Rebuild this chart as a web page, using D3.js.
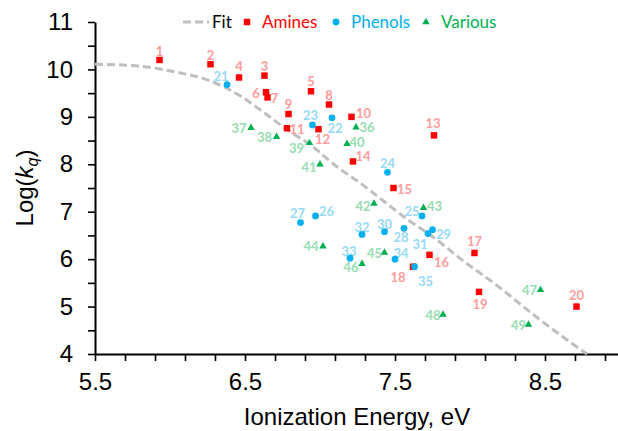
<!DOCTYPE html>
<html>
<head>
<meta charset="utf-8">
<script src="https://cdn.jsdelivr.net/npm/d3@7"></script>
<style>
  body { margin: 0; background: #fff; }
  svg { display: block; }
</style>
</head>
<body>
<svg id="chart" width="618" height="431"></svg>
<script>
// values
const amineIds = [1, 2, 3, 4, 5, 6, 7, 8, 9, 10, 11, 12, 13, 14, 15, 16, 17, 18, 19, 20];
const amineIE = [5.93, 6.27, 6.63, 6.46, 6.94, 6.64, 6.65, 7.06, 6.79, 7.21, 6.78, 6.99, 7.76, 7.22, 7.49, 7.73, 8.03, 7.62, 8.06, 8.71];
const amineLogK = [10.20, 10.11, 9.87, 9.83, 9.54, 9.52, 9.41, 9.26, 9.06, 9.00, 8.76, 8.74, 8.61, 8.06, 7.50, 6.09, 6.13, 5.84, 5.31, 5.00];

const phenolIds = [21, 22, 23, 24, 25, 26, 27, 28, 29, 30, 31, 32, 33, 34, 35];
const phenolIE = [6.38, 7.08, 6.95, 7.45, 7.68, 6.97, 6.87, 7.56, 7.75, 7.43, 7.72, 7.28, 7.20, 7.50, 7.63];
const phenolLogK = [9.68, 8.98, 8.83, 7.83, 6.91, 6.91, 6.77, 6.65, 6.62, 6.58, 6.54, 6.52, 6.02, 6.00, 5.84];

const variousIds = [36, 37, 38, 39, 40, 41, 42, 43, 44, 45, 46, 47, 48, 49];
const variousIE = [7.24, 6.54, 6.71, 6.93, 7.18, 7.00, 7.36, 7.69, 7.02, 7.43, 7.28, 8.47, 7.82, 8.39];
const variousLogK = [8.78, 8.77, 8.58, 8.45, 8.43, 8.00, 7.17, 7.08, 6.27, 6.14, 5.90, 5.35, 4.83, 4.62];

// dashed fit curve
const fitIE = [5.5, 5.8, 6.03, 6.25, 6.47, 6.63, 6.78, 6.94, 7.1, 7.3, 7.43, 7.59, 7.74, 7.94, 8.19, 8.41, 8.65, 8.78];
const fitLogK = [10.11, 10.07, 9.95, 9.78, 9.44, 9.08, 8.73, 8.4, 7.98, 7.53, 7.21, 6.82, 6.5, 6.0, 5.42, 4.86, 4.29, 4.0];

const xMajor = [5.5, 6.5, 7.5, 8.5];
const yMajor = [4, 5, 6, 7, 8, 9, 10, 11];

// where each number label sits relative to its marker (px)
const labelOffset = {
  1: [0, -9], 2: [0, -9], 3: [0, -10], 4: [0, -11], 5: [0, -10], 6: [-10, 1], 7: [7, 1],
  8: [0, -10], 9: [0, -10], 10: [12, -4], 11: [10, 1], 12: [4, 10], 13: [-1, -12], 14: [10, -5],
  15: [11, 1], 16: [12, 7], 17: [0, -12], 18: [-15, 10], 19: [1, 12], 20: [0, -12],
  21: [-6, -9], 22: [3, 10], 23: [-2, -10], 24: [0, -9], 25: [-10, -5], 26: [11, -5], 27: [-3, -10],
  28: [-3, 9], 29: [11, 4], 30: [0, -8], 31: [-8, 10], 32: [0, -7], 33: [-1, -7], 34: [6, -6],
  35: [11, 14], 36: [11, 0], 37: [-12, 0], 38: [-12, 0], 39: [-13, 5], 40: [10, -2], 41: [-11, 3],
  42: [-11, 2], 43: [11, -2], 44: [-12, 0], 45: [-10, 0], 46: [-11, 3], 47: [-11, 0], 48: [-10, 0],
  49: [-10, 0]
};

const series = [
  { name: "Amines", ids: amineIds, ie: amineIE, logk: amineLogK, color: "#FF0000", label: "#FF9B9B", shape: d3.symbolSquare, size: 42 },
  { name: "Phenols", ids: phenolIds, ie: phenolIE, logk: phenolLogK, color: "#00B0F0", label: "#97DAF7", shape: d3.symbolCircle, size: 36 },
  { name: "Various", ids: variousIds, ie: variousIE, logk: variousLogK, color: "#00B050", label: "#97DDB1", shape: d3.symbolTriangle, size: 24 }
];

const svg = d3.select("#chart");

const x = d3.scaleLinear().domain([5.5, 9.0]).range([95, 620]);
const y = d3.scaleLinear().domain([4, 11]).range([354, 22]);

// axes
const xTicks = d3.range(0, 18).map(i => +(5.5 + i * 0.2).toFixed(1));
const yTicks = d3.range(0, 15).map(i => 4 + i * 0.5);

const xAxis = svg.append("g")
  .attr("transform", `translate(0,${y(4)})`)
  .call(d3.axisBottom(x)
    .tickValues(xTicks)
    .tickSize(7)
    .tickSizeOuter(0)
    .tickPadding(12)
    .tickFormat(d => xMajor.includes(d) ? d3.format(".1f")(d) : ""));

const yAxis = svg.append("g")
  .attr("transform", `translate(${x(5.5)},0)`)
  .call(d3.axisLeft(y)
    .tickValues(yTicks)
    .tickSize(7)
    .tickSizeOuter(0)
    .tickPadding(15)
    .tickFormat(d => yMajor.includes(d) ? d : ""));

[xAxis, yAxis].forEach(g => {
  g.select(".domain").attr("stroke", "#000").attr("stroke-width", 2);
  g.selectAll(".tick line").attr("stroke", "#000").attr("stroke-width", 1.6);
  g.selectAll(".tick text")
    .attr("fill", "#000")
    .style("font-family", "'Liberation Sans', Arial, sans-serif")
    .style("font-size", "24px");
});

// axis titles
svg.append("text")
  .attr("x", (x(5.5) + 619) / 2)
  .attr("y", 425)
  .attr("text-anchor", "middle")
  .style("font-family", "'Liberation Sans', Arial, sans-serif")
  .style("font-size", "24px")
  .text("Ionization Energy, eV");

const yTitle = svg.append("text")
  .attr("transform", `translate(33,${(y(4) + y(11)) / 2}) rotate(-90)`)
  .attr("text-anchor", "middle")
  .style("font-family", "'Liberation Sans', Arial, sans-serif")
  .style("font-size", "24px");
yTitle.append("tspan").text("Log(");
yTitle.append("tspan").style("font-style", "italic").text("k");
yTitle.append("tspan").style("font-style", "italic").style("font-size", "16px").attr("dy", 5).text("q");
yTitle.append("tspan").attr("dy", -5).text(")");

// fit line
const fitPts = fitIE.map((e, i) => [e, fitLogK[i]]);
const line = d3.line()
  .x(d => x(d[0]))
  .y(d => y(d[1]))
  .curve(d3.curveMonotoneX);

svg.append("path")
  .attr("d", line(fitPts))
  .attr("fill", "none")
  .attr("stroke", "#BFBFBF")
  .attr("stroke-width", 3)
  .attr("stroke-dasharray", "8,4");

// number labels
series.forEach(s => {
  svg.append("g")
    .selectAll("text")
    .data(s.ids.map((id, i) => ({ id, e: s.ie[i], k: s.logk[i] })))
    .join("text")
    .attr("x", d => x(d.e) + labelOffset[d.id][0])
    .attr("y", d => y(d.k) + labelOffset[d.id][1])
    .attr("text-anchor", "middle")
    .attr("dominant-baseline", "central")
    .attr("fill", s.label)
    .style("font-family", "Lato, 'Open Sans', sans-serif")
    .style("font-weight", 700)
    .style("font-size", "13px")
    .text(d => d.id);
});

// markers
series.forEach(s => {
  svg.append("g")
    .selectAll("path")
    .data(s.ids.map((id, i) => ({ id, e: s.ie[i], k: s.logk[i] })))
    .join("path")
    .attr("transform", d => `translate(${x(d.e)},${y(d.k)})`)
    .attr("d", d3.symbol().type(s.shape).size(s.size))
    .attr("fill", s.color);
});

// legend
const legend = svg.append("g")
  .style("font-family", "Lato, 'Open Sans', sans-serif")
  .style("font-size", "17px");

legend.append("line")
  .attr("x1", 183).attr("x2", 209)
  .attr("y1", 22).attr("y2", 22)
  .attr("stroke", "#BFBFBF")
  .attr("stroke-width", 3)
  .attr("stroke-dasharray", "8,4");
legend.append("text").attr("x", 212).attr("y", 28).attr("fill", "#000").text("Fit");

const legendX = [247, 336, 426];
series.forEach((s, i) => {
  legend.append("path")
    .attr("transform", `translate(${legendX[i]},22)`)
    .attr("d", d3.symbol().type(s.shape).size(s.size))
    .attr("fill", s.color);
  legend.append("text")
    .attr("x", legendX[i] + 15)
    .attr("y", 28)
    .attr("fill", s.color)
    .text(s.name);
});
</script>
</body>
</html>
